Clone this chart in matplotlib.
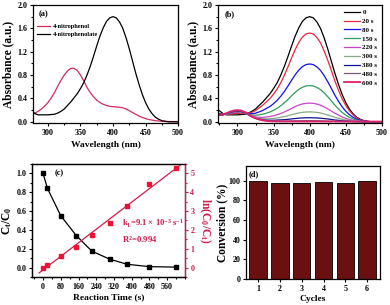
import numpy as np
import matplotlib
matplotlib.use("Agg")
import matplotlib.pyplot as plt
from matplotlib.ticker import MultipleLocator

plt.rcParams['font.family'] = ['Liberation Serif', 'DejaVu Serif']
plt.rcParams['font.weight'] = 'bold'
plt.rcParams['axes.labelweight'] = 'bold'
plt.rcParams['mathtext.fontset'] = 'custom'
plt.rcParams['mathtext.rm'] = 'Liberation Serif:bold'
plt.rcParams['mathtext.it'] = 'Liberation Serif:italic:bold'
plt.rcParams['mathtext.bf'] = 'Liberation Serif:bold'
plt.rcParams['mathtext.default'] = 'rm'

# ---------------- data ----------------
wavelength = list(range(275, 505, 5))

nitrophenol = [0.13, 0.15, 0.18, 0.22, 0.27, 0.33, 0.41, 0.50, 0.61, 0.71,
               0.80, 0.87, 0.915, 0.915, 0.88, 0.80, 0.70, 0.59, 0.50, 0.43,
               0.37, 0.33, 0.30, 0.28, 0.265, 0.26, 0.255, 0.25, 0.24, 0.22,
               0.19, 0.16, 0.13, 0.10, 0.075, 0.055, 0.04, 0.03, 0.02, 0.015,
               0.01, 0.008, 0.006, 0.005, 0.005, 0.005]

nitrophenolate = [0.19, 0.14, 0.12, 0.12, 0.12, 0.12, 0.125, 0.13, 0.15, 0.18,
                  0.22, 0.28, 0.34, 0.41, 0.48, 0.57, 0.67, 0.80, 0.95, 1.12,
                  1.30, 1.47, 1.61, 1.72, 1.78, 1.80, 1.78, 1.71, 1.60, 1.44,
                  1.25, 1.04, 0.83, 0.64, 0.47, 0.33, 0.22, 0.14, 0.08, 0.045,
                  0.02, 0.01, 0.0, 0.0, 0.0, 0.0]

time_labels = ['0', '20 s', '80 s', '150 s', '220 s', '300 s', '380 s', '480 s', '600 s']

spec_0 = nitrophenolate
spec_20 = [0.145, 0.127, 0.129, 0.132, 0.140, 0.143, 0.148, 0.145, 0.150, 0.163,
           0.194, 0.238, 0.285, 0.341, 0.400, 0.474, 0.562, 0.669, 0.798, 0.942,
           1.094, 1.239, 1.360, 1.452, 1.505, 1.520, 1.505, 1.444, 1.353, 1.216,
           1.056, 0.882, 0.699, 0.540, 0.395, 0.281, 0.190, 0.122, 0.068, 0.038,
           0.018, 0.009, 0.003, 0.0, 0.0, 0.0]
spec_80 = [0.137, 0.130, 0.138, 0.149, 0.161, 0.165, 0.166, 0.156, 0.144, 0.138,
           0.148, 0.170, 0.194, 0.228, 0.264, 0.311, 0.369, 0.439, 0.520, 0.614,
           0.713, 0.807, 0.886, 0.945, 0.980, 0.990, 0.980, 0.941, 0.881, 0.792,
           0.688, 0.574, 0.455, 0.351, 0.257, 0.183, 0.124, 0.079, 0.045, 0.025,
           0.012, 0.006, 0.002, 0.0, 0.0, 0.0]
spec_150 = [0.127, 0.126, 0.138, 0.154, 0.168, 0.172, 0.171, 0.156, 0.135, 0.118,
            0.113, 0.120, 0.130, 0.148, 0.169, 0.197, 0.232, 0.276, 0.326, 0.384,
            0.446, 0.505, 0.555, 0.592, 0.614, 0.620, 0.614, 0.589, 0.552, 0.496,
            0.431, 0.360, 0.285, 0.220, 0.161, 0.115, 0.078, 0.050, 0.028, 0.016,
            0.007, 0.004, 0.001, 0.0, 0.0, 0.0]
spec_220 = [0.115, 0.118, 0.133, 0.152, 0.166, 0.171, 0.168, 0.150, 0.123, 0.098,
            0.083, 0.078, 0.077, 0.083, 0.091, 0.104, 0.121, 0.144, 0.168, 0.198,
            0.230, 0.261, 0.286, 0.306, 0.317, 0.320, 0.317, 0.304, 0.285, 0.256,
            0.222, 0.186, 0.147, 0.114, 0.083, 0.059, 0.040, 0.026, 0.014, 0.008,
            0.004, 0.002, 0.0, 0.0, 0.0, 0.0]
spec_300 = [0.112, 0.119, 0.135, 0.156, 0.171, 0.176, 0.172, 0.153, 0.121, 0.091,
            0.070, 0.059, 0.051, 0.051, 0.053, 0.058, 0.066, 0.078, 0.089, 0.105,
            0.122, 0.139, 0.152, 0.162, 0.168, 0.170, 0.168, 0.162, 0.151, 0.136,
            0.118, 0.099, 0.078, 0.060, 0.044, 0.031, 0.021, 0.014, 0.008, 0.004,
            0.002, 0.0, 0.0, 0.0, 0.0, 0.0]
spec_380 = [0.112, 0.120, 0.138, 0.160, 0.177, 0.182, 0.178, 0.156, 0.121, 0.087,
            0.062, 0.046, 0.035, 0.029, 0.027, 0.027, 0.030, 0.034, 0.037, 0.043,
            0.050, 0.057, 0.063, 0.067, 0.069, 0.070, 0.069, 0.067, 0.062, 0.056,
            0.049, 0.041, 0.032, 0.025, 0.018, 0.013, 0.009, 0.006, 0.003, 0.002,
            0.0, 0.0, 0.0, 0.0, 0.0, 0.0]
spec_480 = [0.115, 0.125, 0.144, 0.168, 0.185, 0.191, 0.185, 0.163, 0.125, 0.088,
            0.059, 0.041, 0.027, 0.019, 0.015, 0.012, 0.011, 0.013, 0.014, 0.015,
            0.016, 0.018, 0.018, 0.019, 0.020, 0.020, 0.020, 0.019, 0.018, 0.016,
            0.014, 0.012, 0.009, 0.007, 0.005, 0.004, 0.003, 0.002, 0.001, 0.0,
            0.0, 0.0, 0.0, 0.0, 0.0, 0.0]
spec_600 = [0.12, 0.13, 0.15, 0.176, 0.194, 0.20, 0.194, 0.17, 0.13, 0.09,
            0.06, 0.04, 0.025, 0.017, 0.011, 0.008, 0.007, 0.007, 0.006, 0.006,
            0.006, 0.006, 0.006, 0.006, 0.006, 0.006, 0.006, 0.006, 0.006, 0.005,
            0.005, 0.005, 0.005, 0.005, 0.005, 0.005, 0.005, 0.005, 0.005, 0.005,
            0.005, 0.005, 0.005, 0.005, 0.005, 0.005]
spectra = [spec_0, spec_20, spec_80, spec_150, spec_220, spec_300, spec_380, spec_480, spec_600]
spec_colors = ['#000000', '#E8283C', '#1010F0', '#2E9E5E', '#CC44CC',
               '#8AA68A', '#101090', '#7A5A7A', '#E0206A']

reaction_time = [0, 20, 80, 150, 220, 300, 380, 480, 600]
ct_c0 = [1.0, 0.84, 0.55, 0.34, 0.175, 0.09, 0.035, 0.01, 0.005]
ln_c0_ct = [0.0, 0.16, 0.60, 1.10, 1.75, 2.38, 3.26, 4.43, 5.27]

cycles = [1, 2, 3, 4, 5, 6]
conversion = [99.6, 97.4, 97.6, 98.7, 97.7, 99.4]

# ---------------- style ----------------
TICK = 5.8
XLAB = 6.8
YLAB = 8.3
RED = '#D01C4C'

fig = plt.figure(figsize=(3.9, 3.05), dpi=100)

def style_ax(ax):
    ax.tick_params(which='both', direction='out', labelsize=TICK, width=0.8)
    ax.tick_params(which='major', length=2.5, pad=1.5)
    ax.tick_params(which='minor', length=1.5)
    for s in ax.spines.values():
        s.set_linewidth(0.9)
    for lab in ax.get_xticklabels() + ax.get_yticklabels():
        lab.set_fontweight('bold')

# ---- (a)
axa = fig.add_axes([0.0846, 0.5967, 0.372, 0.387])
axa.plot(wavelength, nitrophenol, color='#D42A5A', lw=0.9, label='4-nitrophenol')
axa.plot(wavelength, nitrophenolate, color='black', lw=0.9, label='4-nitrophenolate')
axa.set_xlim(277, 500)
axa.set_ylim(-0.02, 2.0)
axa.xaxis.set_major_locator(MultipleLocator(50))
axa.xaxis.set_minor_locator(MultipleLocator(25))
axa.set_yticks([0, 0.4, 0.8, 1.2, 1.6, 2.0])
axa.set_yticklabels(['0.0', '0.4', '0.8', '1.2', '1.6', '2.0'])
axa.yaxis.set_minor_locator(MultipleLocator(0.2))
axa.set_xlabel('Wavelength (nm)', fontsize=XLAB, labelpad=3)
axa.set_ylabel('Absorbance (a.u.)', fontsize=YLAB, labelpad=2)
axa.text(0.04, 0.92, '(a)', transform=axa.transAxes, fontsize=6, fontweight='bold', va='center')
axa.legend(loc='upper left', bbox_to_anchor=(0.0, 0.88), frameon=False,
           prop={'size': 4.6, 'weight': 'bold'}, handlelength=2.0,
           handletextpad=0.35, labelspacing=0.4, borderaxespad=0.3)
style_ax(axa)

# ---- (b)
axb = fig.add_axes([0.559, 0.5967, 0.420, 0.387])
for lab, y, c in zip(time_labels, spectra, spec_colors):
    lw = 1.3 if lab == '600 s' else 0.9
    axb.plot(wavelength, y, color=c, lw=lw, label=lab)
axb.set_xlim(273, 500)
axb.set_ylim(-0.02, 2.0)
axb.xaxis.set_major_locator(MultipleLocator(50))
axb.xaxis.set_minor_locator(MultipleLocator(25))
axb.set_yticks([0, 0.4, 0.8, 1.2, 1.6, 2.0])
axb.set_yticklabels(['0.0', '0.4', '0.8', '1.2', '1.6', '2.0'])
axb.yaxis.set_minor_locator(MultipleLocator(0.2))
axb.set_xlabel('Wavelength (nm)', fontsize=XLAB, labelpad=3)
axb.set_ylabel('Absorbance (a.u.)', fontsize=YLAB, labelpad=2)
axb.text(0.04, 0.92, '(b)', transform=axb.transAxes, fontsize=6, fontweight='bold', va='center')
axb.legend(loc='upper right', frameon=False, prop={'size': 5.0, 'weight': 'bold'},
           handlelength=2.2, handletextpad=0.4, labelspacing=0.42, borderaxespad=0.25)
style_ax(axb)

# ---- (c)
axc = fig.add_axes([0.082, 0.0918, 0.392, 0.3705])
axc.plot(reaction_time, ct_c0, color='black', lw=0.9, marker='s', ms=3.2, zorder=3)
axc.set_xlim(-50, 640)
axc.set_ylim(-0.1, 1.1)
axc.set_xticks(list(range(0, 561, 80)))
axc.xaxis.set_minor_locator(MultipleLocator(40))
axc.set_yticks([0, 0.2, 0.4, 0.6, 0.8, 1.0])
axc.set_yticklabels(['0.0', '0.2', '0.4', '0.6', '0.8', '1.0'])
axc.yaxis.set_minor_locator(MultipleLocator(0.1))
axc.set_xlabel('Reaction Time (s)', fontsize=XLAB, labelpad=2)
axc.set_ylabel(r'C$_t$/C$_0$', fontsize=YLAB, labelpad=2)
axc.text(0.145, 0.92, '(c)', transform=axc.transAxes, fontsize=6, fontweight='bold', va='center')
style_ax(axc)

axc2 = axc.twinx()
slope, intercept = np.polyfit(reaction_time, ln_c0_ct, 1)
tfit = np.array([-18, 640])
axc2.plot(tfit, slope * tfit + intercept, color=RED, lw=0.9, zorder=2)
axc2.plot(reaction_time, ln_c0_ct, ls='none', marker='s', ms=3.2, color='#EE1133', zorder=3)
axc2.set_ylim(-0.5, 5.5)
axc2.set_yticks([0, 1, 2, 3, 4, 5])
axc2.yaxis.set_minor_locator(MultipleLocator(0.5))
axc2.set_ylabel(r'ln(C$_0$/C$_t$)', fontsize=YLAB, color=RED, rotation=270, labelpad=13)
axc2.tick_params(which='both', direction='out', labelsize=TICK, colors=RED, width=0.8)
axc2.tick_params(which='major', length=2.5, pad=1.5)
axc2.tick_params(which='minor', length=1.5)
for s in axc2.spines.values():
    s.set_linewidth(0.9)
axc2.spines['right'].set_color(RED)
for lab in axc2.get_yticklabels():
    lab.set_fontweight('bold')
axc.text(0.586, 0.47, r'k$_1$=9.1 × 10$^{-3}$ s$^{-1}$', transform=axc.transAxes,
         fontsize=6.2, color=RED, fontweight='bold', va='center')
axc.text(0.586, 0.33, r'R$^2$=0.994', transform=axc.transAxes,
         fontsize=6.2, color=RED, fontweight='bold', va='center')

# ---- (d)
axd = fig.add_axes([0.631, 0.0852, 0.344, 0.3705])
axd.bar(cycles, conversion, width=0.8, color='#6B1010', edgecolor='black', linewidth=0.6)
axd.set_xlim(0.45, 6.6)
axd.set_ylim(0, 115)
axd.set_xticks(cycles)
axd.set_yticks([0, 20, 40, 60, 80, 100])
axd.set_xlabel('Cycles', fontsize=XLAB, labelpad=2)
axd.set_ylabel('Conversion (%)', fontsize=YLAB, labelpad=0.5)
axd.text(0.02, 0.93, '(d)', transform=axd.transAxes, fontsize=6, fontweight='bold', va='center')
style_ax(axd)

fig.savefig('out.png', dpi=100)
